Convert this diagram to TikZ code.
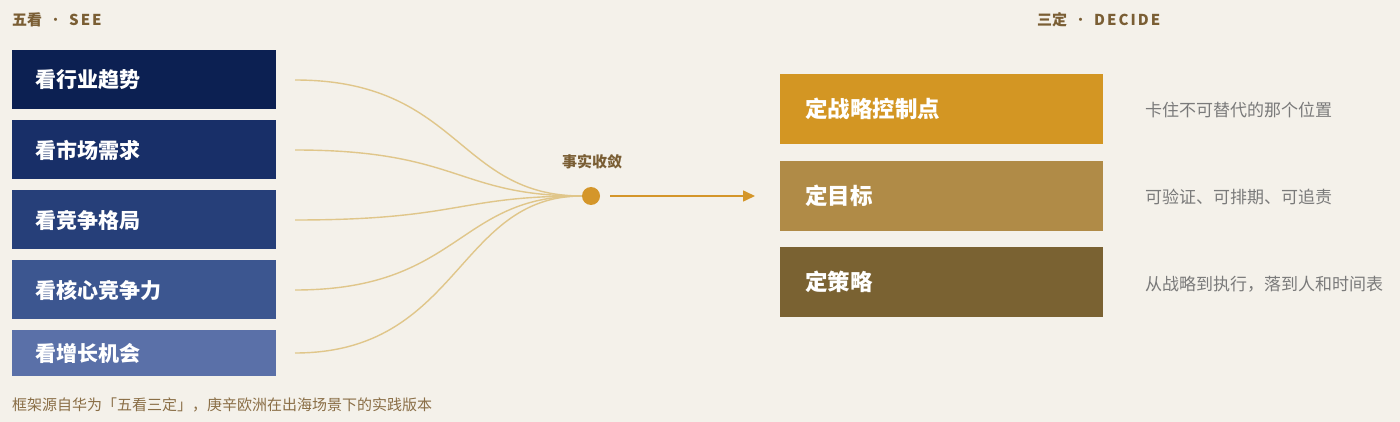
\documentclass[tikz,border=0pt]{standalone}
\usepackage{fontspec}
\setmainfont{Noto Sans CJK SC}
\usetikzlibrary{arrows.meta}
\definecolor{bg}{HTML}{F4F1EA}
\definecolor{brownt}{HTML}{7A5E34}
\definecolor{footc}{HTML}{8A6E46}
\definecolor{grayt}{HTML}{7A7A7A}
\definecolor{curvec}{HTML}{E0C68A}
\definecolor{goldc}{HTML}{D4962A}
\definecolor{nA}{HTML}{0C2052}
\definecolor{nB}{HTML}{182F68}
\definecolor{nC}{HTML}{263F79}
\definecolor{nD}{HTML}{3C5690}
\definecolor{nE}{HTML}{5A70A8}
\definecolor{dA}{HTML}{D39623}
\definecolor{dB}{HTML}{B08B47}
\definecolor{dC}{HTML}{7A6232}
\tikzset{
  seebox/.style={rectangle, draw=none, minimum width=264pt, anchor=north west, inner sep=0pt},
  seetext/.style={anchor=west, text=white, font=\fontsize{21}{25}\selectfont\bfseries, inner sep=0pt},
  decbox/.style={rectangle, draw=none, minimum width=323pt, minimum height=70pt, anchor=north west, inner sep=0pt},
  dectext/.style={anchor=west, text=white, font=\fontsize{22.5}{27}\selectfont\bfseries, inner sep=0pt},
  desctext/.style={anchor=west, text=grayt, font=\fontsize{17}{20}\selectfont, inner sep=0pt},
  headtext/.style={anchor=west, text=brownt, font=\fontsize{15}{18}\selectfont\bfseries, inner sep=0pt},
  fan/.style={draw=curvec, line width=1.4pt},
}
\newcommand{\hdot}{\hspace{6pt}{\mdseries·}\hspace{6pt}}
\begin{document}
\begin{tikzpicture}[x=1pt, y=-1pt]
\fill[bg] (0,0) rectangle (1400,422);
\useasboundingbox (0,0) rectangle (1400,422);

% headers
\node[headtext] (h1) at (12,20) {五看\hdot S\kern2pt E\kern2pt E};
\node[headtext] (h2) at (1037,20) {三定\hdot D\kern2pt E\kern2pt C\kern2pt I\kern2pt D\kern2pt E};

% left boxes
\node[seebox, fill=nA, minimum height=59pt] (b1) at (12,50) {};
\node[seebox, fill=nB, minimum height=59pt] (b2) at (12,120) {};
\node[seebox, fill=nC, minimum height=59pt] (b3) at (12,190) {};
\node[seebox, fill=nD, minimum height=59pt] (b4) at (12,260) {};
\node[seebox, fill=nE, minimum height=46pt] (b5) at (12,330) {};
\node[seetext] (t1) at (35,80) {看行业趋势};
\node[seetext] (t2) at (35,150) {看市场需求};
\node[seetext] (t3) at (35,220) {看竞争格局};
\node[seetext] (t4) at (35,290) {看核心竞争力};
\node[seetext] (t5) at (35,353) {看增长机会};

% fan curves
\coordinate (s1) at (295,80);
\coordinate (s2) at (295,150);
\coordinate (s3) at (295,220);
\coordinate (s4) at (295,290);
\coordinate (s5) at (295,353);
\node[circle, fill=goldc, minimum size=18pt, inner sep=0pt] (dot) at (591,196) {};
\foreach \s in {s1,s2,s3,s4,s5}
  \draw[fan] (\s) .. controls +(165,0) and +(-125,0) .. (dot.west);
\node[anchor=center, text=brownt, font=\fontsize{15}{18}\selectfont\bfseries, inner sep=0pt] (lab) at (592,162) {事实收敛};

% arrow
\coordinate (ae) at (755,196);
\draw[draw=goldc, line width=1.6pt, -{Triangle[length=12pt, width=11pt]}] ([xshift=10pt]dot.east) -- (ae);

% right boxes
\node[decbox, fill=dA] (r1) at (780,74) {};
\node[decbox, fill=dB] (r2) at (780,160.5) {};
\node[decbox, fill=dC] (r3) at (780,247) {};
\node[dectext] (u1) at (805,109) {定战略控制点};
\node[dectext] (u2) at (805,195.5) {定目标};
\node[dectext] (u3) at (805,282) {定策略};

\node[desctext] (d1) at (1145,110) {卡住不可替代的那个位置};
\node[desctext] (d2) at (1145,197) {可验证、可排期、可追责};
\node[desctext] (d3) at (1145,284) {从战略到执行，落到人和时间表};

% footnote
\node[anchor=west, text=footc, font=\fontsize{15}{18}\selectfont, inner sep=0pt] (foot) at (12,405) {框架源自华为「五看三定」，庚辛欧洲在出海场景下的实践版本};
\end{tikzpicture}
\end{document}
